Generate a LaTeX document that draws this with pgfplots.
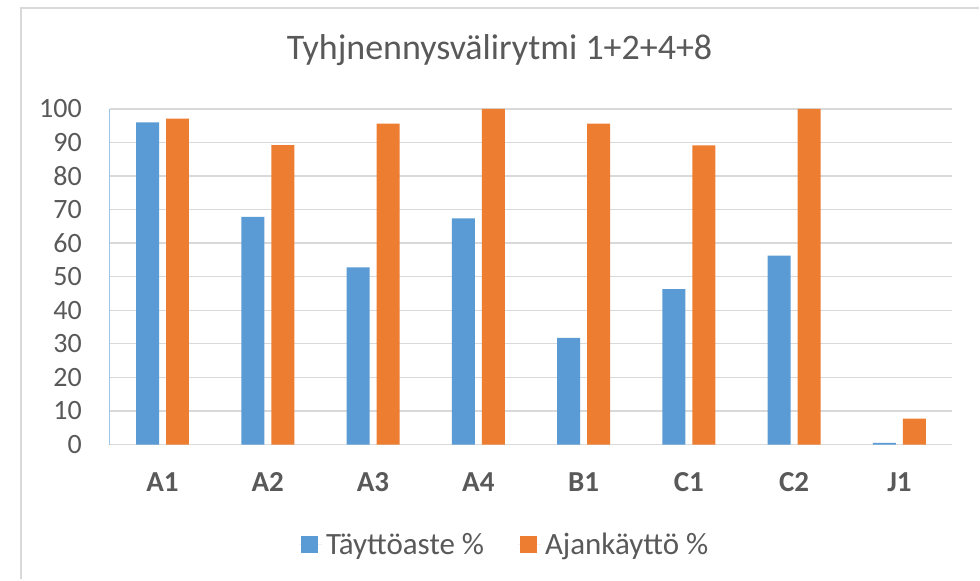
\documentclass[border=0pt]{standalone}
\usepackage{fontspec}
\setmainfont{Carlito}
\usepackage{pgfplots}
\pgfplotsset{compat=1.18}
\definecolor{cblue}{HTML}{5B9BD5}
\definecolor{corange}{HTML}{ED7D31}
\definecolor{cgrid}{HTML}{D9D9D9}
\definecolor{ctext}{HTML}{595959}
\definecolor{caxis}{HTML}{9DC3E6}
\begin{document}
\begin{tikzpicture}[x=1bp,y=1bp]
\fill[white] (0,0) rectangle (980,580);
\draw[cgrid, line width=2bp] (21,0) -- (21,572) -- (980,572);
\node[anchor=base, text=ctext, font=\fontsize{36bp}{40bp}\selectfont, inner sep=0] at (500,520) {Tyhjnennysvälirytmi 1+2+4+8};
\begin{axis}[
  at={(110bp,135bp)}, anchor=south west,
  scale only axis, width=843bp, height=336bp,
  ymin=0, ymax=100, xmin=-0.5, xmax=7.5,
  enlargelimits=false,
  ybar=7bp, bar width=23bp,
  xtick={0,...,7},
  xticklabels={A1,A2,A3,A4,B1,C1,C2,J1},
  ytick={0,10,...,100},
  ymajorgrids, grid style={cgrid, line width=1.3bp},
  axis x line*=bottom, axis y line*=left,
  x axis line style={cgrid, line width=1.3bp, -},
  y axis line style={caxis, line width=0.8bp, -},
  major tick length=0,
  tick style={draw=none},
  /pgf/number format/assume math mode=true,
  yticklabel style={font=\fontsize{28bp}{32bp}\selectfont, text=ctext, anchor=east, inner sep=0, xshift=-28bp},
  xticklabel style={font=\fontsize{29bp}{32bp}\selectfont\bfseries, text=ctext, anchor=base, inner sep=0, yshift=-47bp},
  legend columns=2,
  legend style={at={(0.47,-0.298)}, anchor=center, draw=none, fill=none,
    font=\fontsize{31bp}{34bp}\selectfont, text=ctext,
    nodes={inner xsep=4bp},
    /tikz/every even column/.append style={column sep=30bp}},
  legend image code/.code={\fill[#1] (0bp,-8.5bp) rectangle (17bp,8.5bp); \path (-2bp,0bp) -- (21bp,0bp);},
]
\addplot[fill=cblue, draw=none] coordinates {(0,96.0) (1,67.8) (2,52.8) (3,67.4) (4,31.8) (5,46.3) (6,56.3) (7,0.5)};
\addlegendentry{Täyttöaste \%}
\addplot[fill=corange, draw=none] coordinates {(0,97.1) (1,89.2) (2,95.6) (3,100) (4,95.6) (5,89.1) (6,100) (7,7.7)};
\addlegendentry{Ajankäyttö \%}
\end{axis}
\end{tikzpicture}
\end{document}
